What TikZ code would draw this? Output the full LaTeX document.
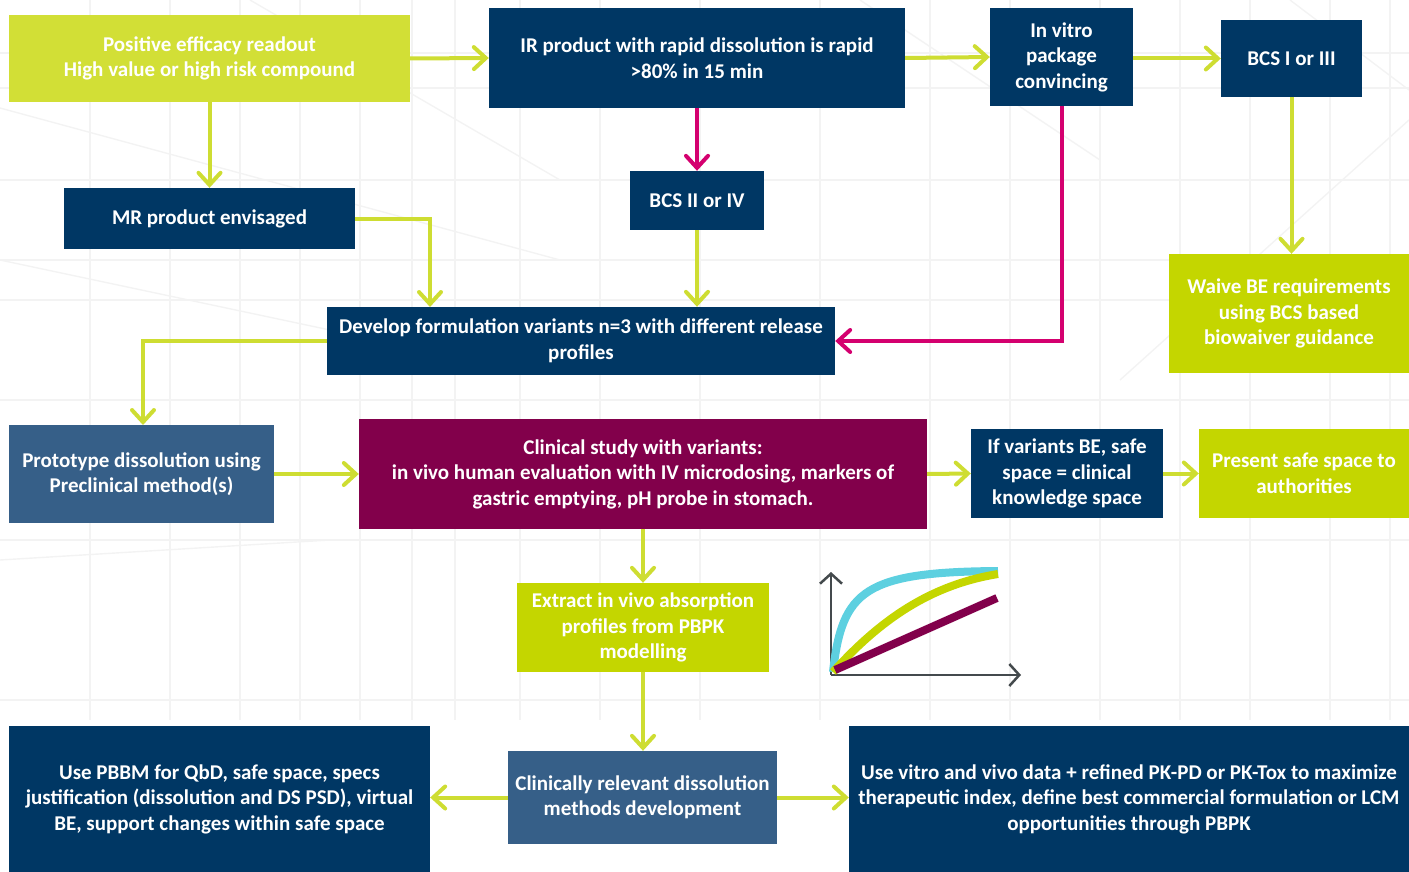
\documentclass[tikz,border=0pt]{standalone}
\usepackage{fontspec}
\setmainfont{Carlito}
\usetikzlibrary{arrows.meta}
\definecolor{navy}{HTML}{003764}
\definecolor{limeA}{HTML}{D2DF36}
\definecolor{limeB}{HTML}{C4D600}
\definecolor{limearrow}{HTML}{CEDD32}
\definecolor{steel}{HTML}{365F88}
\definecolor{maroon}{HTML}{82004B}
\definecolor{magentaarrow}{HTML}{D4006F}
\definecolor{cyanc}{HTML}{5DD0E0}
\definecolor{axisgray}{HTML}{444A4D}
\definecolor{gridgray}{HTML}{F3F3F3}
\tikzset{
  box/.style={fill=#1, text=white, inner sep=0pt, align=center,
    font=\bfseries\fontsize{21}{25.5}\selectfont},
  flow/.style={draw=limearrow, line width=4pt,
    -{Straight Barb[length=12pt,width=22pt,line cap=round]}},
  flowm/.style={flow, draw=magentaarrow},
  gridline/.style={draw=gridgray, line width=1.4pt},
  curve/.style={line width=8pt}
}
\begin{document}
\begin{tikzpicture}[x=1pt,y=-1pt]
\useasboundingbox (0,0) rectangle (1409,872);
% faint background grid
\foreach \x in {90,170,240,300,360,412,455,520,600,700,820,930,1010,1100,1180,1250,1330,1390}
  \draw[gridline] (\x,0) -- (\x,720);
\foreach \y in {53,88,180,260,300,400,540,700}
  \draw[gridline] (0,\y) -- (1409,\y);
\draw[gridline] (0,108) -- (560,260);
\draw[gridline] (250,0) -- (560,180);
\draw[gridline] (1290,0) -- (1409,90);
\draw[gridline] (860,0) -- (1100,160);
\draw[gridline] (1409,120) -- (1120,380);
\draw[gridline] (0,260) -- (330,330);
\draw[gridline] (0,560) -- (330,540);

% nodes
\node[box=limeA, minimum width=401pt, minimum height=87pt] (pos) at (209.5,58.5)
  {Positive efficacy readout\\High value or high risk compound};
\node[box=navy, minimum width=416pt, minimum height=100pt] (ir) at (697,58)
  {IR product with rapid dissolution is rapid\\>80\% in 15 min};
\node[box=navy, minimum width=143pt, minimum height=98pt] (vitro) at (1061.5,57)
  {In vitro\\package\\convincing};
\node[box=navy, minimum width=141pt, minimum height=77pt] (bcsI) at (1291.5,58.5)
  {BCS I or III};
\node[box=navy, minimum width=291pt, minimum height=61pt] (mr) at (209.5,218.5)
  {MR product envisaged};
\node[box=navy, minimum width=134pt, minimum height=59pt] (bcsII) at (697,200.5)
  {BCS II or IV};
\node[box=navy, minimum width=508pt, minimum height=68pt] (dev) at (581,341)
  {Develop formulation variants n=3 with different release\\profiles};
\node[box=limeB, minimum width=240pt, minimum height=119pt] (waive) at (1289,313.5)
  {Waive BE requirements\\using BCS based\\biowaiver guidance};
\node[box=steel, minimum width=265pt, minimum height=98pt] (proto) at (141.5,474)
  {Prototype dissolution using\\Preclinical method(s)};
\node[box=maroon, minimum width=568pt, minimum height=110pt] (clin) at (643,474)
  {Clinical study with variants:\\in vivo human evaluation with IV microdosing, markers of\\gastric emptying, pH probe in stomach.};
\node[box=navy, minimum width=192pt, minimum height=89pt] (ifv) at (1067,473.5)
  {If variants BE, safe\\space = clinical\\knowledge space};
\node[box=limeB, minimum width=210pt, minimum height=89pt] (pres) at (1304,473.5)
  {Present safe space to\\authorities};
\node[box=limeB, minimum width=252pt, minimum height=89pt] (extr) at (643,627.5)
  {Extract in vivo absorption\\profiles from PBPK\\modelling};
\node[box=steel, minimum width=269pt, minimum height=93pt] (crd) at (642.5,797.5)
  {Clinically relevant dissolution\\methods development};
\node[box=navy, minimum width=421pt, minimum height=146pt] (pbbm) at (219.5,799)
  {Use PBBM for QbD, safe space, specs\\justification (dissolution and DS PSD), virtual\\BE, support changes within safe space};
\node[box=navy, minimum width=560pt, minimum height=146pt] (usev) at (1129,799)
  {Use vitro and vivo data + refined PK-PD or PK-Tox to maximize\\therapeutic index, define best commercial formulation or LCM\\opportunities through PBPK};

% connectors
\draw[flow] (pos.east) -- (ir.west);
\draw[flow] (ir.east) -- (vitro.west);
\draw[flow] (vitro.east |- bcsI.west) -- (bcsI.west);
\draw[flow] (pos.south) -- (mr.north);
\draw[flowm] (ir.south) -- (bcsII.north);
\draw[flow] (mr.east) -- (430,218.5) -- (430,307);
\draw[flow] (bcsII.south) -- (bcsII.south |- dev.north);
\draw[flowm] (vitro.south) -- (1061.5,341) -- (dev.east);
\draw[flow] (bcsI.south) -- (bcsI.south |- waive.north);
\draw[flow] (dev.west) -- (143,341) -- (143,425);
\draw[flow] (proto.east) -- (clin.west);
\draw[flow] (clin.east) -- (ifv.west);
\draw[flow] (ifv.east) -- (pres.west);
\draw[flow] (clin.south) -- (extr.north);
\draw[flow] (extr.south) -- (extr.south |- crd.north);
\draw[flow] (crd.west) -- (pbbm.east |- crd.west);
\draw[flow] (crd.east) -- (usev.west |- crd.west);

% small chart
\coordinate (org) at (831,675);
\coordinate (ytop) at (831,572);
\coordinate (xend) at (1021,675);
\draw[axisgray, line width=2.5pt, -{Straight Barb[length=10pt,width=22pt]}] (org) -- (ytop);
\draw[axisgray, line width=2.5pt, -{Straight Barb[length=10pt,width=22pt]}] (org) -- (xend);
\draw[curve, draw=cyanc] (833,672) .. controls (842,590) and (865,572) .. (998,571);
\draw[curve, draw=limeB] (833,672) .. controls (880,620) and (930,585) .. (998,574);
\draw[curve, draw=maroon] (835,670) -- (997,598);
\end{tikzpicture}
\end{document}
